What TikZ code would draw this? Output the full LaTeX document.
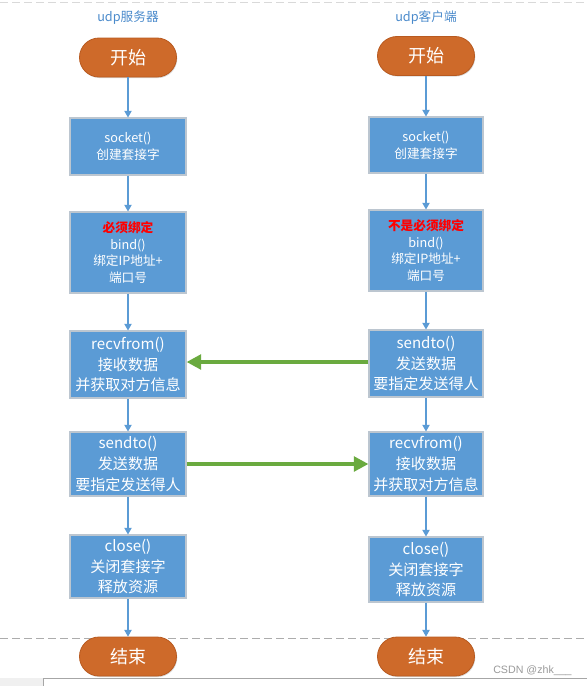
\documentclass[tikz,border=0pt]{standalone}
\usepackage{fontspec}
\setmainfont{Noto Sans CJK SC}
\newfontfamily\wmfont{Liberation Sans}
\usetikzlibrary{arrows.meta,shadows}
\definecolor{boxblue}{HTML}{5B9BD5}
\definecolor{boxedge}{HTML}{BCC6D0}
\definecolor{ovalfill}{HTML}{CE6A2A}
\definecolor{ovaledge}{HTML}{B85A20}
\definecolor{arrgreen}{HTML}{6AAA3F}
\definecolor{titleblue}{HTML}{4A8ACB}
\tikzset{
  stepbox/.style={draw=boxedge, line width=0.8pt, fill=boxblue, text=white, align=center,
    minimum width=87pt, inner sep=0pt, font=\fontsize{11.3}{15.6}\selectfont,
    drop shadow={shadow xshift=0.8pt, shadow yshift=-0.8pt, opacity=0.25}},
  smallbox/.style={stepbox, font=\fontsize{9.5}{12.8}\selectfont},
  oval/.style={draw=ovaledge, line width=0.6pt, fill=ovalfill, text=white, rounded corners=14.6pt,
    minimum width=72.75pt, minimum height=29.25pt, inner sep=0pt, font=\fontsize{13.5}{15}\selectfont,
    drop shadow={shadow xshift=0.6pt, shadow yshift=-0.8pt, opacity=0.3}},
  flow/.style={draw=boxblue, line width=0.8pt, -{Triangle[length=5pt,width=5.5pt]}},
  msg/.style={draw=arrgreen, line width=3pt, -{Triangle[length=11pt,width=11pt]}},
  title/.style={text=titleblue, font=\fontsize{9.5}{10}\selectfont},
  sep/.style={draw=gray!65, line width=0.7pt, dash pattern=on 6pt off 3pt},
}
\begin{document}
\begin{tikzpicture}[x=0.75pt,y=-0.75pt]
\useasboundingbox (0,0) rectangle (587,686);
% separators
\draw[sep, draw=gray!30] (0,2) -- (587,2);
\draw[sep] (0,638) -- (587,638);
% bottom frame
\fill[gray!12] (0,678) rectangle (43,686);
\draw[gray!70, line width=0.7pt] (43,686) -- (43,678) -- (587,678);
% titles
\node[title] (t1) at (128,18) {udp服务器};
\node[title] (t2) at (426,18) {udp客户端};
% left column
\node[oval] (ls) at (128,57.5) {开始};
\node[smallbox, minimum height=42.75pt] (l1) at (128,146.5) {socket()\\创建套接字};
\node[smallbox, minimum height=60.75pt, font=\fontsize{9.5}{12.4}\selectfont] (l2) at (128,252.5) {\textcolor{red}{\textbf{必须绑定}}\\bind()\\绑定IP地址+\\端口号};
\node[stepbox, minimum height=50.25pt] (l3) at (128,364.5) {recvfrom()\\接收数据\\并获取对方信息};
\node[stepbox, minimum height=48pt] (l4) at (128,464) {sendto()\\发送数据\\要指定发送得人};
\node[stepbox, minimum height=47.25pt] (l5) at (128,566.5) {close()\\关闭套接字\\释放资源};
\node[oval] (le) at (128,656.5) {结束};
% right column
\node[oval] (rs) at (426,56) {开始};
\node[smallbox, minimum height=42pt, minimum width=85.5pt] (r1) at (426,145) {socket()\\创建套接字};
\node[smallbox, minimum height=60.75pt, minimum width=85.5pt, font=\fontsize{9.5}{12.4}\selectfont] (r2) at (426,250.5) {\textcolor{red}{\textbf{不是必须绑定}}\\bind()\\绑定IP地址+\\端口号};
\node[stepbox, minimum height=50.25pt, minimum width=85.5pt] (r3) at (426,363.5) {sendto()\\发送数据\\要指定发送得人};
\node[stepbox, minimum height=48pt, minimum width=85.5pt] (r4) at (426,464) {recvfrom()\\接收数据\\并获取对方信息};
\node[stepbox, minimum height=48.75pt, minimum width=85.5pt] (r5) at (426,569.5) {close()\\关闭套接字\\释放资源};
\node[oval] (re) at (426,656.5) {结束};
% flow arrows
\foreach \a/\b in {ls/l1,l1/l2,l2/l3,l3/l4,l4/l5,rs/r1,r1/r2,r2/r3,r3/r4,r4/r5}
  \draw[flow] (\a.south) -- (\b.north);
\draw[flow] (l5.south) -- (le.north);
\draw[flow] (r5.south) -- (re.north);
% message arrows
\draw[msg] (r3.west |- 0,362) -- (l3.east |- 0,362);
\draw[msg] (l4.east |- 0,464) -- (r4.west |- 0,464);
% watermark
\node[text=gray!80, font=\wmfont\fontsize{8}{9}\selectfont, anchor=west, inner sep=0pt] (wm) at (493,671) {CSDN @zhk\_\_\_};
\end{tikzpicture}
\end{document}
